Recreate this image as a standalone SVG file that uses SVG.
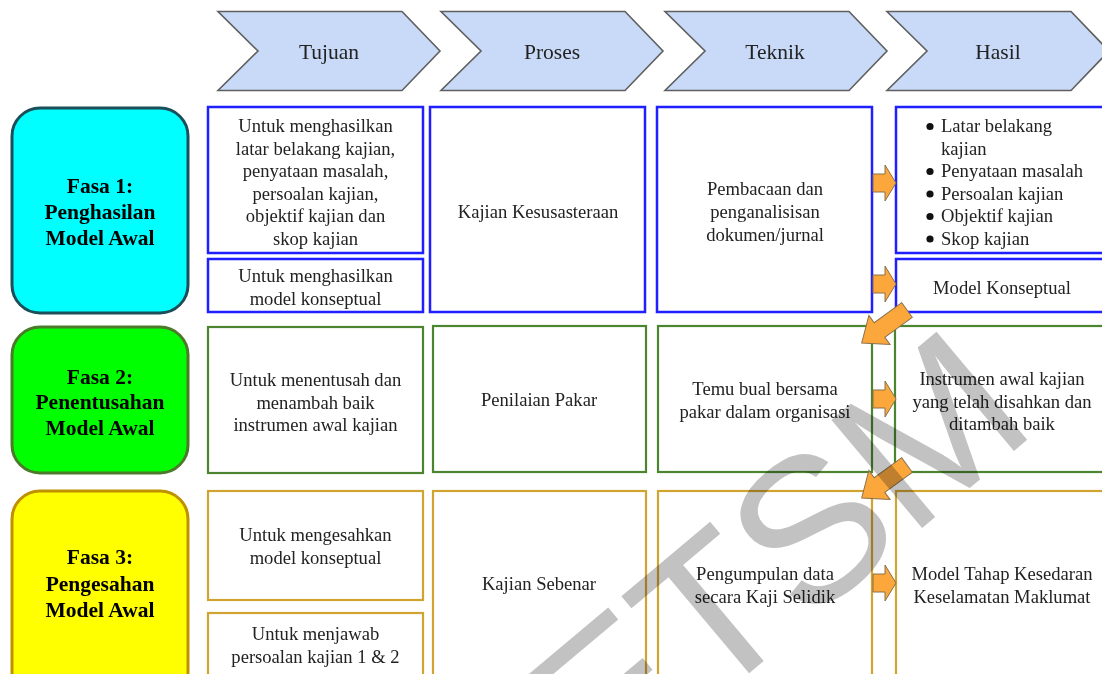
<svg xmlns="http://www.w3.org/2000/svg" width="1102" height="674" viewBox="0 0 1102 674">
  <style>
    .bg { fill: #ffffff; }
    .chev { fill: #c9daf8; stroke: #5f5f5f; stroke-width: 1.6; }
    .hdr { font-family: "Liberation Serif", "Times New Roman", serif; font-size: 21.5px; fill: #222; text-anchor: middle; }
    .t { font-family: "Liberation Serif", "Times New Roman", serif; font-size: 18.6px; fill: #222; text-anchor: middle; }
    .tl { font-family: "Liberation Serif", "Times New Roman", serif; font-size: 18.6px; fill: #222; }
    .ph { font-family: "Liberation Serif", "Times New Roman", serif; font-size: 21.5px; font-weight: bold; fill: #000; text-anchor: middle; }
    .b1 { fill: #fff; stroke: #1f1fff; stroke-width: 2.5; }
    .b2 { fill: #fff; stroke: #4b8530; stroke-width: 2.2; }
    .b3 { fill: #fff; stroke: #d1a431; stroke-width: 2.2; }
    .arr { fill: #fba73c; stroke: #8a7048; stroke-width: 1; stroke-linejoin: miter; }
    .wm { font-family: "Liberation Sans", Arial, sans-serif; font-size: 205px; fill: #c2c2c2; mix-blend-mode: multiply; text-anchor: middle; }
  </style>
  <defs>
    <polygon id="chevron" points="0,0 184,0 222,39.5 184,79 0,79 40,39.5"/>
    <!-- short block arrow pointing right, tail at origin -->
    <polygon id="arrowShort" points="0,-9 12,-9 12,-18 23,0 12,18 12,9 0,9"/>
    <!-- longer block arrow used for the diagonal links -->
    <polygon id="arrowLong" points="0,-9 34,-9 34,-18 56,0 34,18 34,9 0,9"/>
  </defs>

  <rect class="bg" x="0" y="0" width="1102" height="674"/>

  <!-- column headers -->
  <g id="hdr-tujuan">
    <use href="#chevron" class="chev" x="218" y="11.5"/>
    <text class="hdr" x="329" y="59">Tujuan</text>
  </g>
  <g id="hdr-proses">
    <use href="#chevron" class="chev" x="441" y="11.5"/>
    <text class="hdr" x="552" y="59">Proses</text>
  </g>
  <g id="hdr-teknik">
    <use href="#chevron" class="chev" x="665" y="11.5"/>
    <text class="hdr" x="775" y="59">Teknik</text>
  </g>
  <g id="hdr-hasil">
    <use href="#chevron" class="chev" x="887" y="11.5"/>
    <text class="hdr" x="998" y="59">Hasil</text>
  </g>

  <!-- phase labels -->
  <g id="fasa1">
    <rect x="12" y="108" width="176" height="205" rx="28" fill="#00ffff" stroke="#1b4f5a" stroke-width="3"/>
    <text class="ph" x="100" y="193">Fasa 1:</text>
    <text class="ph" x="100" y="219">Penghasilan</text>
    <text class="ph" x="100" y="245">Model Awal</text>
  </g>
  <g id="fasa2">
    <rect x="12" y="327" width="176" height="146" rx="28" fill="#00ff00" stroke="#4a7a2a" stroke-width="3"/>
    <text class="ph" x="100" y="384">Fasa 2:</text>
    <text class="ph" x="100" y="409">Penentusahan</text>
    <text class="ph" x="100" y="435">Model Awal</text>
  </g>
  <g id="fasa3">
    <rect x="12" y="491" width="176" height="210" rx="28" fill="#ffff00" stroke="#bf9000" stroke-width="3"/>
    <text class="ph" x="100" y="564">Fasa 3:</text>
    <text class="ph" x="100" y="591">Pengesahan</text>
    <text class="ph" x="100" y="617">Model Awal</text>
  </g>

  <!-- phase 1 row -->
  <g id="f1-tujuan-a">
    <rect class="b1" x="208" y="107" width="215" height="146"/>
    <text class="t" x="315.5" y="132">Untuk menghasilkan</text>
    <text class="t" x="315.5" y="154.5">latar belakang kajian,</text>
    <text class="t" x="315.5" y="177">penyataan masalah,</text>
    <text class="t" x="315.5" y="199.5">persoalan kajian,</text>
    <text class="t" x="315.5" y="222">objektif kajian dan</text>
    <text class="t" x="315.5" y="244.5">skop kajian</text>
  </g>
  <g id="f1-tujuan-b">
    <rect class="b1" x="208" y="259" width="215" height="53"/>
    <text class="t" x="315.5" y="282">Untuk menghasilkan</text>
    <text class="t" x="315.5" y="304.5">model konseptual</text>
  </g>
  <g id="f1-proses">
    <rect class="b1" x="430" y="107" width="215" height="205"/>
    <text class="t" x="538" y="218">Kajian Kesusasteraan</text>
  </g>
  <g id="f1-teknik">
    <rect class="b1" x="657" y="107" width="215" height="205"/>
    <text class="t" x="765" y="195">Pembacaan dan</text>
    <text class="t" x="765" y="218">penganalisisan</text>
    <text class="t" x="765" y="241">dokumen/jurnal</text>
  </g>
  <g id="f1-hasil-a">
    <rect class="b1" x="896" y="107" width="220" height="146"/>
    <circle cx="930" cy="126.5" r="3.6" fill="#111"/>
    <circle cx="930" cy="171.5" r="3.6" fill="#111"/>
    <circle cx="930" cy="194" r="3.6" fill="#111"/>
    <circle cx="930" cy="216.5" r="3.6" fill="#111"/>
    <circle cx="930" cy="239" r="3.6" fill="#111"/>
    <text class="tl" x="941" y="132">Latar belakang</text>
    <text class="tl" x="941" y="154.5">kajian</text>
    <text class="tl" x="941" y="177">Penyataan masalah</text>
    <text class="tl" x="941" y="199.5">Persoalan kajian</text>
    <text class="tl" x="941" y="222">Objektif kajian</text>
    <text class="tl" x="941" y="244.5">Skop kajian</text>
  </g>
  <g id="f1-hasil-b">
    <rect class="b1" x="896" y="259" width="220" height="53"/>
    <text class="t" x="1002" y="294">Model Konseptual</text>
  </g>

  <!-- phase 2 row -->
  <g id="f2-tujuan">
    <rect class="b2" x="208" y="327" width="215" height="146"/>
    <text class="t" x="315.5" y="386">Untuk menentusah dan</text>
    <text class="t" x="315.5" y="408.5">menambah baik</text>
    <text class="t" x="315.5" y="431">instrumen awal kajian</text>
  </g>
  <g id="f2-proses">
    <rect class="b2" x="433" y="326" width="213" height="146"/>
    <text class="t" x="539" y="406">Penilaian Pakar</text>
  </g>
  <g id="f2-teknik">
    <rect class="b2" x="658" y="326" width="214" height="146"/>
    <text class="t" x="765" y="395">Temu bual bersama</text>
    <text class="t" x="765" y="417.5">pakar dalam organisasi</text>
  </g>
  <g id="f2-hasil">
    <rect class="b2" x="895" y="326" width="220" height="146"/>
    <text class="t" x="1002" y="385">Instrumen awal kajian</text>
    <text class="t" x="1002" y="407.5">yang telah disahkan dan</text>
    <text class="t" x="1002" y="430">ditambah baik</text>
  </g>

  <!-- phase 3 row -->
  <g id="f3-tujuan-a">
    <rect class="b3" x="208" y="491" width="215" height="109"/>
    <text class="t" x="315.5" y="541">Untuk mengesahkan</text>
    <text class="t" x="315.5" y="563.5">model konseptual</text>
  </g>
  <g id="f3-tujuan-b">
    <rect class="b3" x="208" y="613" width="215" height="80"/>
    <text class="t" x="315.5" y="640">Untuk menjawab</text>
    <text class="t" x="315.5" y="663">persoalan kajian 1 &amp; 2</text>
  </g>
  <g id="f3-proses">
    <rect class="b3" x="433" y="491" width="213" height="200"/>
    <text class="t" x="539" y="590">Kajian Sebenar</text>
  </g>
  <g id="f3-teknik">
    <rect class="b3" x="658" y="491" width="214" height="200"/>
    <text class="t" x="765" y="580">Pengumpulan data</text>
    <text class="t" x="765" y="602.5">secara Kaji Selidik</text>
  </g>
  <g id="f3-hasil">
    <rect class="b3" x="896" y="491" width="220" height="200"/>
    <text class="t" x="1002" y="580">Model Tahap Kesedaran</text>
    <text class="t" x="1002" y="602.5">Keselamatan Maklumat</text>
  </g>

  <!-- connectors -->
  <g id="connectors">
    <use href="#arrowShort" class="arr" x="873" y="183"/>
    <use href="#arrowShort" class="arr" x="873" y="284"/>
    <use href="#arrowShort" class="arr" x="873" y="399"/>
    <use href="#arrowShort" class="arr" x="873" y="583"/>
    <use href="#arrowLong" class="arr" transform="translate(907 310) rotate(144)"/>
    <use href="#arrowLong" class="arr" transform="translate(907 465) rotate(144)"/>
  </g>

  <!-- watermark -->
  <text class="wm" x="822" y="612" transform="rotate(-40 822 612)">ETSM</text>
</svg>
